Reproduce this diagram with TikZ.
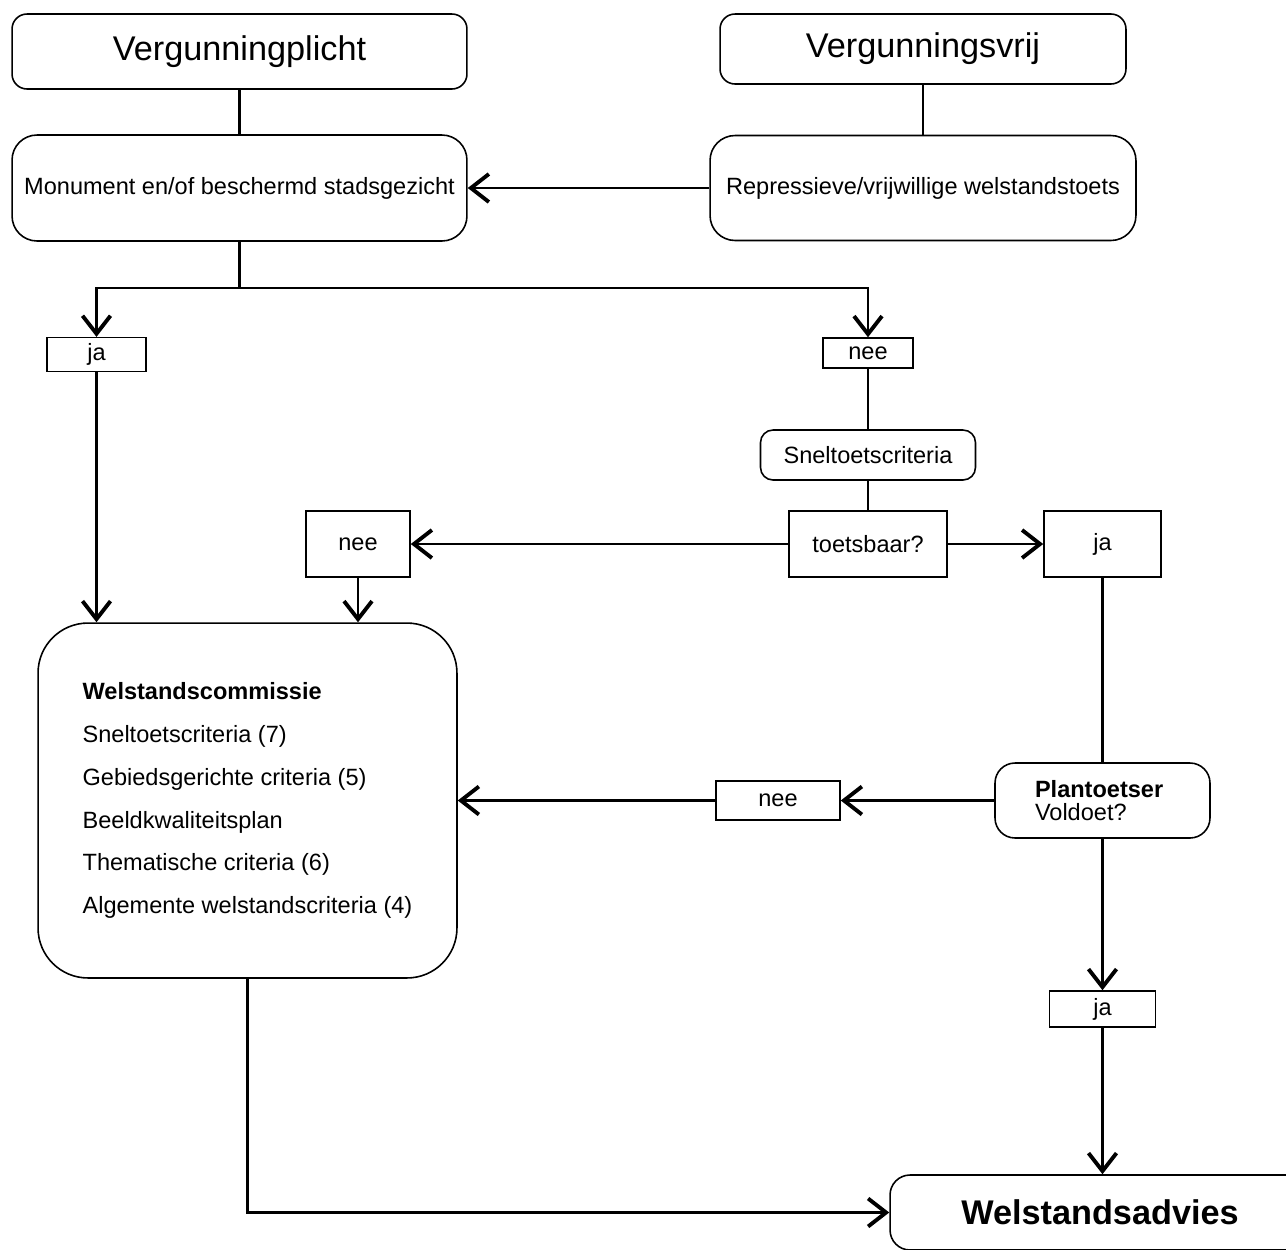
\documentclass[tikz,border=0pt]{standalone}
\usepackage{fontspec}
\setmainfont{Liberation Sans}
\usetikzlibrary{arrows.meta}

\begin{document}
\begin{tikzpicture}[x=0.02cm, y=-0.02cm,
    >={Straight Barb[length=3.6mm, width=5.6mm, line width=2.2pt]},
    flow/.style={line width=1.6pt},
    roundbox/.style={draw, line width=0.9pt, rounded corners=#1, align=center,
      font=\fontsize{13.4}{16}\selectfont},
    roundbox/.default=5mm,
    labelbox/.style={draw, line width=0.9pt, font=\fontsize{13.4}{16}\selectfont},
    bigtext/.style={font=\fontsize{19.5}{23}\selectfont}]
  \useasboundingbox (0,0) rectangle (1286,1249);
  % top row
  \node[roundbox=3mm, bigtext, minimum width=9.1cm, minimum height=1.5cm] (plicht) at (239.5,51.5) {Vergunningplicht};
  \node[roundbox=3mm, bigtext, minimum width=8.12cm, minimum height=1.4cm] (vrij) at (923,49) {Vergunningsvrij};
  % second row
  \node[roundbox=5mm, minimum width=9.1cm, minimum height=2.12cm] (monument) at (239.5,188) {Monument en/of beschermd stadsgezicht};
  \node[roundbox=5mm, minimum width=8.52cm, minimum height=2.1cm] (repressief) at (923,188) {Repressieve/vrijwillige welstandstoets};
  % ja / nee branch
  \coordinate (split) at (239.5,288);
  \node[labelbox, minimum width=1.98cm, minimum height=0.66cm] (jaA) at (96.5,354.5) {ja};
  \node[labelbox, minimum width=1.8cm, minimum height=0.6cm] (neeA) at (868,353) {nee};
  \node[roundbox=2.5mm, minimum width=4.3cm, minimum height=1cm] (snel) at (868,455) {Sneltoetscriteria};
  \node[labelbox, minimum width=3.16cm, minimum height=1.32cm] (toets) at (868,544) {toetsbaar?};
  \node[labelbox, minimum width=2.08cm, minimum height=1.32cm] (neeB) at (358,544) {nee};
  \node[labelbox, minimum width=2.34cm, minimum height=1.32cm] (jaB) at (1102.5,544) {ja};
  % welstandscommissie
  \node[roundbox=1cm, align=left, minimum width=8.38cm, minimum height=7.1cm,
    font=\fontsize{13.4}{24.4}\selectfont] (commissie) at (247.5,800.5)
    {\textbf{Welstandscommissie}\\ Sneltoetscriteria (7)\\ Gebiedsgerichte criteria (5)\\
     Beeldkwaliteitsplan\\ Thematische criteria (6)\\ Algemente welstandscriteria (4)};
  % plantoetser
  \node[roundbox=4mm, align=left, text width=2.7cm, inner xsep=8mm, minimum height=1.5cm,
    font=\fontsize{13.4}{13.5}\selectfont] (plan) at (1102.5,800.5) {\textbf{Plantoetser}\\ Voldoet?};
  \node[labelbox, minimum width=2.48cm, minimum height=0.78cm] (neeC) at (778,800.5) {nee};
  \node[labelbox, minimum width=2.12cm, minimum height=0.72cm] (jaC) at (1102.5,1009) {ja};
  % welstandsadvies, cut off by the page edge
  \node[roundbox=4mm, font=\fontsize{19.5}{23}\selectfont\bfseries, minimum width=8.4cm, minimum height=1.5cm] (advies) at (1100,1212.5) {Welstandsadvies};
  % connectors
  \draw[flow] (plicht.south) -- (monument.north);
  \draw[flow] (vrij.south) -- (repressief.north);
  \draw[flow, ->] (repressief.west) -- (monument.east);
  \draw[flow] (monument.south) -- (split);
  \draw[flow, ->] (split) -| (jaA.north);
  \draw[flow, ->] (split) -| (neeA.north);
  \draw[flow] (neeA.south) -- (snel.north);
  \draw[flow] (snel.south) -- (toets.north);
  \draw[flow, ->] (toets.west) -- (neeB.east);
  \draw[flow, ->] (toets.east) -- (jaB.west);
  \draw[flow, ->] (jaA.south) -- (jaA.south |- commissie.north);
  \draw[flow, ->] (neeB.south) -- (neeB.south |- commissie.north);
  \draw[flow] (jaB.south) -- (plan.north);
  \draw[flow, ->] (plan.west) -- (neeC.east);
  \draw[flow, ->] (neeC.west) -- (commissie.east);
  \draw[flow, ->] (plan.south) -- (jaC.north);
  \draw[flow, ->] (jaC.south) -- (jaC.south |- advies.north);
  \draw[flow, ->] (commissie.south) |- (advies.west);
\end{tikzpicture}
\end{document}
